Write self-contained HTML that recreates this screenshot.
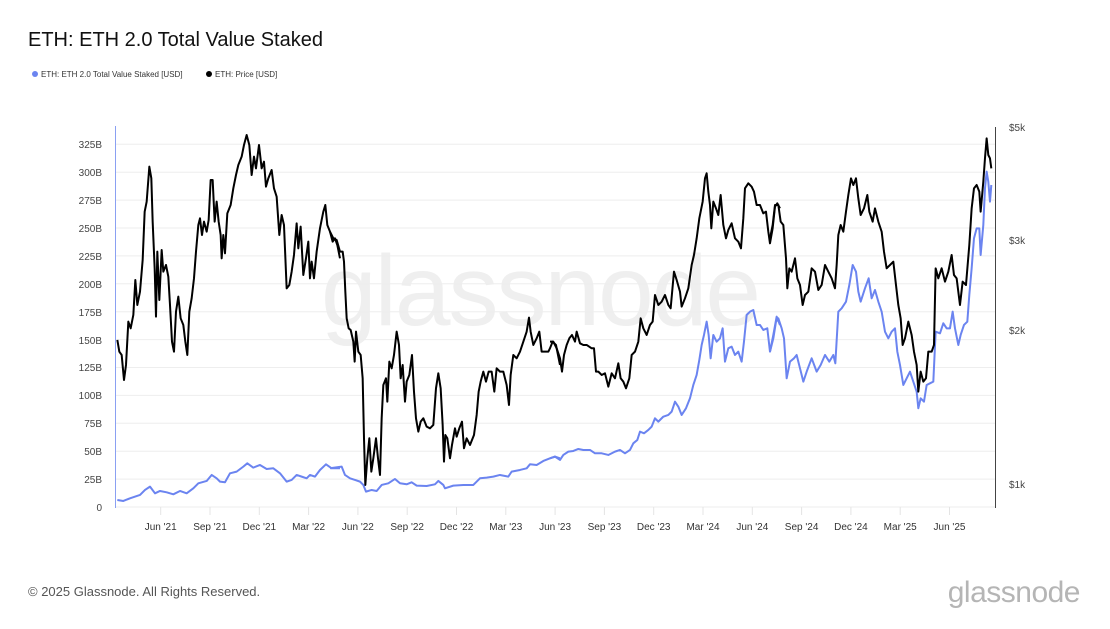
<!DOCTYPE html>
<html><head><meta charset="utf-8"><style>
body{margin:0;width:1110px;height:624px;background:#fff;font-family:"Liberation Sans",sans-serif;overflow:hidden}
</style></head><body>
<svg width="1110" height="624" xmlns="http://www.w3.org/2000/svg" font-family="Liberation Sans, sans-serif">
<text x="28" y="46" font-size="20" fill="#111">ETH: ETH 2.0 Total Value Staked</text>
<circle cx="35" cy="74" r="3" fill="#6b84f0"/><text x="41" y="77" font-size="8" fill="#333">ETH: ETH 2.0 Total Value Staked [USD]</text>
<circle cx="209" cy="74" r="3" fill="#000"/><text x="215" y="77" font-size="8" fill="#333">ETH: Price [USD]</text>
<text x="540" y="325" font-size="100" fill="#efefef" text-anchor="middle" letter-spacing="-2">glassnode</text>
<g stroke="#eee" stroke-width="1">
<line x1="116" x2="995" y1="479.1" y2="479.1"/><line x1="116" x2="995" y1="451.2" y2="451.2"/><line x1="116" x2="995" y1="423.3" y2="423.3"/><line x1="116" x2="995" y1="395.4" y2="395.4"/><line x1="116" x2="995" y1="367.5" y2="367.5"/><line x1="116" x2="995" y1="339.6" y2="339.6"/><line x1="116" x2="995" y1="311.7" y2="311.7"/><line x1="116" x2="995" y1="283.8" y2="283.8"/><line x1="116" x2="995" y1="255.9" y2="255.9"/><line x1="116" x2="995" y1="228" y2="228"/><line x1="116" x2="995" y1="200.1" y2="200.1"/><line x1="116" x2="995" y1="172.2" y2="172.2"/><line x1="116" x2="995" y1="144.3" y2="144.3"/>
<line x1="116" x2="995" y1="507" y2="507"/>
</g>
<g stroke="#e4e4e4" stroke-width="1" id="ticks"></g>
<g font-size="10" fill="#444" text-anchor="end">
<text x="102" y="511">0</text><text x="102" y="483">25B</text><text x="102" y="455">50B</text><text x="102" y="427">75B</text><text x="102" y="399">100B</text><text x="102" y="371">125B</text><text x="102" y="344">150B</text><text x="102" y="316">175B</text><text x="102" y="288">200B</text><text x="102" y="260">225B</text><text x="102" y="232">250B</text><text x="102" y="204">275B</text><text x="102" y="176">300B</text><text x="102" y="148">325B</text>
</g>
<g font-size="10" fill="#444">
<text x="1009" y="131">$5k</text><text x="1009" y="244">$3k</text><text x="1009" y="334">$2k</text><text x="1009" y="488">$1k</text>
</g>
<g font-size="10" fill="#333" text-anchor="middle" id="xl"></g>
<line x1="115.5" y1="126" x2="115.5" y2="508" stroke="#8aa0f2" stroke-width="1"/>
<line x1="995.5" y1="127" x2="995.5" y2="508" stroke="#444" stroke-width="1"/>
<g fill="none" stroke-linejoin="round" stroke-width="2">
<g transform="translate(550,125) scale(0.3333)"><polyline vector-effect="non-scaling-stroke" stroke="#6b84f0" points="0,1000 15,995 30,1005 40,990 55,980 70,978 85,972 100,975 120,975 135,985 155,985 175,990 195,980 210,975 225,985 240,975 250,955 262,945 270,920 282,925 295,915 305,905 315,880 325,890 340,875 355,870 365,860 375,830 385,845 395,870 408,850 420,820 430,780 440,750 448,705 455,660 462,630 470,590 476,630 482,700 490,630 500,650 510,640 518,610 525,710 535,670 545,665 555,690 565,680 575,710 582,650 590,570 600,560 610,555 620,600 630,600 640,615 652,610 660,680 670,630 680,575 690,600"/></g>
<g transform="translate(110,125) scale(0.3333)"><polyline vector-effect="non-scaling-stroke" stroke="#6b84f0" points="22,1125 40,1128 60,1120 90,1110 105,1095 120,1085 135,1105 150,1098 170,1102 190,1108 210,1098 230,1105 250,1090 265,1075 290,1068 305,1050 320,1060 330,1070 345,1072 360,1045 380,1040 400,1025 412,1015 430,1028 450,1020 470,1032 490,1030 510,1045 530,1070 545,1065 560,1050 575,1055 590,1060 600,1050 615,1055 630,1035 648,1018 665,1030 690,1030"/></g>
<g transform="translate(330,125) scale(0.3333)"><polyline vector-effect="non-scaling-stroke" stroke="#6b84f0" points="0,1030 35,1025 45,1050 60,1060 75,1065 90,1070 100,1080 108,1100 125,1095 140,1098 155,1080 175,1075 195,1062 210,1075 230,1078 245,1072 260,1082 290,1083 315,1078 325,1068 340,1080 345,1090 370,1082 400,1080 430,1080 450,1060 470,1058 490,1055 510,1050 535,1055 545,1040 570,1035 590,1030 600,1018 620,1020 640,1008 660,1000 675,995 690,1000"/></g>
<g transform="translate(770,125) scale(0.3333)"><polyline vector-effect="non-scaling-stroke" stroke="#6b84f0" points="0,680 10,640 18,590 25,580 35,610 42,640 50,760 60,710 72,700 80,690 90,730 100,770 110,740 125,700 140,740 152,720 165,690 178,710 190,690 196,715 205,560 215,550 228,530 238,480 248,420 258,440 265,500 272,530 285,490 296,460 305,520 315,495 325,530 335,560 345,620 355,640 365,620 375,610 382,680 390,720 400,780 410,760 420,740 430,770 440,800 445,850 452,820 462,830 470,780 480,775 490,770 497,620 510,625 520,595 530,610 540,610 548,560 555,610 565,660 572,630 582,600 592,590 598,510 605,430 612,340 620,310 628,310 632,390 640,300 645,190 650,140 655,170 660,230 664,180"/></g>
<g transform="translate(110,125) scale(0.3333)"><polyline vector-effect="non-scaling-stroke" stroke="#000" points="22,645 28,680 35,690 42,765 48,720 55,590 62,610 70,570 76,465 82,540 90,500 98,405 104,260 110,230 118,125 124,160 128,290 134,430 138,575 142,380 148,525 155,375 160,440 168,420 175,455 180,540 186,650 192,680 198,560 205,515 212,580 220,600 226,650 232,690 238,560 245,520 252,460 258,380 265,300 270,280 276,330 282,290 290,320 296,285 302,165 308,165 314,290 320,230 326,290 332,330 335,400 340,330 345,385 352,265 362,240 370,190 378,150 385,120 395,95 402,60 410,30 418,60 425,150 432,95 438,130 447,60 455,130 462,110 468,185 475,160 485,135 492,190 500,215 508,330 515,270 522,300 530,490 538,480 545,440 552,390 560,295 565,370 572,305 580,450 588,400 595,350 600,460 605,410 612,460 620,380 630,310 640,260 646,240 652,300 660,320 668,350 675,340 682,360 690,400"/></g>
<g transform="translate(330,125) scale(0.3333)"><polyline vector-effect="non-scaling-stroke" stroke="#000" points="0,320 10,340 20,345 30,380 38,380 42,410 46,500 50,580 56,610 62,615 70,650 74,710 78,620 85,680 92,690 98,760 102,940 106,1080 112,1000 118,940 124,1040 130,1000 138,940 144,1000 150,1050 155,880 160,780 168,760 172,830 178,710 185,730 192,690 200,620 207,660 212,760 218,720 225,830 230,770 238,750 246,690 252,800 258,880 265,920 272,890 280,880 290,905 300,910 310,900 318,790 325,745 332,790 338,900 342,1010 346,930 352,940 360,1000 366,960 375,910 380,935 388,910 396,890 402,970 410,940 420,960 432,930 440,870 446,800 452,770 460,740 468,770 476,740 485,740 493,800 500,730 510,740 520,740 530,780 537,840 542,750 550,690 560,700 570,680 580,650 590,620 597,578 602,620 610,660 620,640 628,620 635,680 645,680 655,680 660,670 668,650 678,660 690,720"/></g>
<g transform="translate(550,125) scale(0.3333)"><polyline vector-effect="non-scaling-stroke" stroke="#000" points="0,650 10,650 20,670 30,700 36,740 42,690 50,660 58,640 66,630 75,650 80,620 90,655 100,660 110,660 125,670 132,670 138,740 145,740 155,750 165,745 175,785 185,745 195,760 205,715 212,760 220,770 228,790 238,760 245,690 255,680 265,650 272,580 280,610 290,630 300,600 308,590 315,510 325,540 335,530 345,510 355,540 362,550 372,440 380,465 390,500 395,545 405,520 415,490 425,420 432,390 440,340 448,280 458,230 465,160 470,145 475,200 480,240 484,310 490,230 498,250 505,270 512,210 520,300 528,340 535,315 545,295 555,340 565,350 573,370 580,280 585,190 595,175 605,185 612,200 620,240 630,240 640,265 648,260 655,320 660,355 668,310 675,245 682,235 690,250"/></g>
<g transform="translate(770,125) scale(0.3333)"><polyline vector-effect="non-scaling-stroke" stroke="#000" points="0,340 8,300 15,240 25,240 32,290 40,300 48,400 52,490 58,430 65,440 75,400 82,460 90,480 98,540 105,510 115,500 125,430 135,440 145,495 155,480 165,420 175,440 185,460 195,490 200,420 205,330 212,300 220,320 228,260 235,210 243,160 250,180 258,160 265,220 272,270 282,250 292,210 298,260 308,290 315,250 325,290 335,320 342,380 350,430 360,420 370,410 378,480 385,540 392,580 398,660 405,640 415,590 425,630 432,680 440,720 445,800 452,740 460,770 468,760 475,680 485,680 492,660 497,430 505,460 515,430 525,470 535,440 545,390 552,450 560,460 570,540 578,470 588,480 598,360 605,250 612,190 620,180 628,200 632,260 640,170 645,100 650,40 655,90 660,100 664,130"/></g>
</g>
<text x="28" y="596" font-size="13" fill="#555">© 2025 Glassnode. All Rights Reserved.</text>
<text x="1080" y="602" font-size="30" fill="#b5b5b5" text-anchor="end" letter-spacing="-0.5">glassnode</text>
</svg>
<script>
var labs=["Jun '21","Sep '21","Dec '21","Mar '22","Jun '22","Sep '22","Dec '22","Mar '23","Jun '23","Sep '23","Dec '23","Mar '24","Jun '24","Sep '24","Dec '24","Mar '25","Jun '25"];
var t=document.getElementById('ticks'),xl=document.getElementById('xl'),ns="http://www.w3.org/2000/svg";
labs.forEach(function(l,i){var x=160.7+49.3*i;var ln=document.createElementNS(ns,'line');ln.setAttribute('x1',x);ln.setAttribute('x2',x);ln.setAttribute('y1',507);ln.setAttribute('y2',515);t.appendChild(ln);
var tx=document.createElementNS(ns,'text');tx.setAttribute('x',x);tx.setAttribute('y',530);tx.textContent=l;xl.appendChild(tx);});
</script>
</body></html>
